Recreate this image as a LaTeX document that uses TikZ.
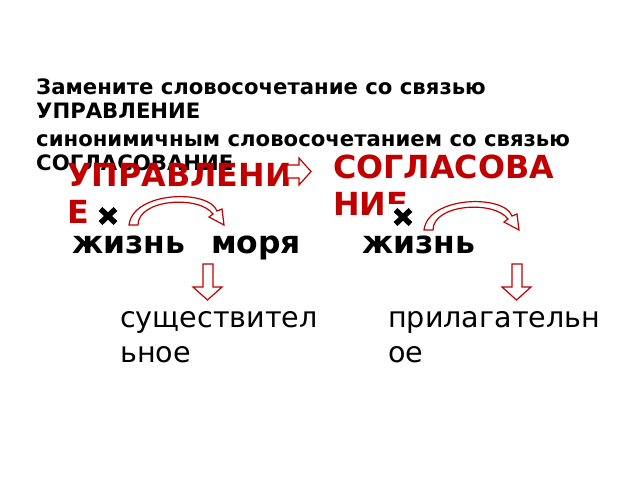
\documentclass[tikz,border=0pt]{standalone}
\usepackage{fontspec}
\setmainfont{DejaVu Sans}
\usetikzlibrary{calc}
\definecolor{arrowred}{RGB}{192,0,0}
\tikzset{
	hollow/.style={draw=arrowred, line width=1.2pt, fill=white, line join=miter},
	titleline/.style={anchor=base west, inner sep=0pt, font=\bfseries\fontsize{21.2}{25}\selectfont},
	redword/.style={anchor=base west, inner sep=0pt, text=arrowred, font=\bfseries\fontsize{31.8}{38}\selectfont},
	boldword/.style={anchor=base west, inner sep=0pt, font=\bfseries\fontsize{31.4}{38}\selectfont},
	plainword/.style={anchor=base west, inner sep=0pt, font=\fontsize{28.6}{35}\selectfont}
}
\def\bentarrow(#1){\draw[hollow, shift={(#1)}] (-4,0) .. controls (0,-34) and (76,-36) .. (84,-14) -- (89,-16) -- (91,0) -- (76,-8) -- (80,-11) .. controls (66,-30) and (5,-26) .. (5,0) -- cycle;}
\def\crossmark(#1){\fill[white, shift={(#1)}] (-14,-13) rectangle (14,13); \draw[line width=5.5pt, shift={(#1)}] (-7.5,-7) -- (7.5,7) (-7.5,7) -- (7.5,-7);}

\begin{document}
\begin{tikzpicture}[x=1pt, y=-1pt]
		%%%%% START %%%%%
		\useasboundingbox (0,0) rectangle (640,480);
		
		\node[titleline] (task1) at (36,94) {Замените словосочетание со связью};
		\node[titleline] (task2) at (36,118) {УПРАВЛЕНИЕ};
		\node[titleline] (task3) at (36,146) {синонимичным словосочетанием со связью};
		\node[titleline] (task4) at (36,170) {СОГЛАСОВАНИЕ};
		
		\node[redword] (upr1) at (67,186) {УПРАВЛЕНИ};
		\node[redword] (upr2) at (67,223) {Е};
		\node[redword] (sogl1) at (333,178) {СОГЛАСОВА};
		\node[redword] (sogl2) at (333,215) {НИЕ};
		
		\draw[hollow] (287,165) -- (299,165) -- (299,158) -- (311,171.5) -- (299,185) -- (299,178) -- (287,178) -- cycle;
		
		\crossmark(108,216);
		\crossmark(403,217);
		
		\bentarrow(133,225);
		\bentarrow(428,230);
		
		\node[boldword] (life1) at (72,253) {жизнь};
		\node[boldword] (sea) at (211,253) {моря};
		\node[boldword] (life2) at (362,253) {жизнь};
		
		\draw[hollow] (203,264) -- (213,264) -- (213,287) -- (222,287) -- (207.5,300) -- (193,287) -- (203,287) -- cycle;
		\draw[hollow] (512,264) -- (522,264) -- (522,287) -- (531,287) -- (516.5,300) -- (502,287) -- (512,287) -- cycle;
		
		\node[plainword] (noun1) at (120,327) {существител};
		\node[plainword] (noun2) at (120,362) {ьное};
		\node[plainword] (adj1) at (388,327) {прилагательн};
		\node[plainword] (adj2) at (388,362) {ое};
		
		%%%%% END %%%%%
\end{tikzpicture}
\end{document}
